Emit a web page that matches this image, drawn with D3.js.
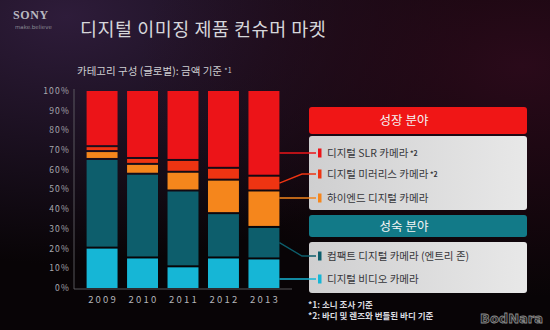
<!DOCTYPE html>
<html><head><meta charset="utf-8">
<script src="https://cdn.jsdelivr.net/npm/d3@7"></script>
<style>
html,body{margin:0;padding:0;background:#0a0508;}
svg{display:block}
text{font-family:"Noto Sans CJK KR","Noto Sans",sans-serif;}
</style>
</head><body>
<svg id="c" width="550" height="330"></svg>
<script>
// Market share by category (global, by value), percent of total
const years = ["2009", "2010", "2011", "2012", "2013"];
const seriesKeys = ["video", "compact", "highend", "mirrorless", "slr"];
const seriesNames = ["디지털 비디오 카메라", "컴팩트 디지털 카메라 (엔트리 존)", "하이엔드 디지털 카메라", "디지털 미러리스 카메라", "디지털 SLR 카메라"];
const seriesNotes = ["", "", "", "*2", "*2"];
const videoShare = [20.5, 15.5, 11, 15.5, 15];
const compactShare = [45, 42.5, 38.5, 22.5, 16];
const highEndShare = [4, 5, 9.5, 17, 18.5];
const mirrorlessShare = [2.5, 3, 6, 6, 7.5];
const slrShare = [28, 34, 35, 39, 43];
const yTicks = [0, 10, 20, 30, 40, 50, 60, 70, 80, 90, 100];
const groupTitles = ["성장 분야", "성숙 분야"];
const footnotes = ["*1: 소니 조사 기준", "*2: 바디 및 렌즈와 번들된 바디 기준"];

const colors = {video: "#16b6d6", compact: "#0d5e6c", highend: "#f5861c", mirrorless: "#ee3412", slr: "#ec1418"};

const svg = d3.select("#c");
const defs = svg.append("defs");

// backdrop with a purple glow top-left and maroon glow on the right
svg.append("rect").attr("width", 550).attr("height", 330).attr("fill", "#080406");
const g1 = defs.append("radialGradient").attr("id", "glowL").attr("cx", 0.12).attr("cy", 0.05).attr("r", 0.75);
g1.append("stop").attr("offset", 0).attr("stop-color", "#2e1c3a").attr("stop-opacity", 1);
g1.append("stop").attr("offset", 1).attr("stop-color", "#2e1c3a").attr("stop-opacity", 0);
const g2 = defs.append("radialGradient").attr("id", "glowR").attr("cx", 0.95).attr("cy", 0.2).attr("r", 0.7);
g2.append("stop").attr("offset", 0).attr("stop-color", "#2a0a1a").attr("stop-opacity", 1);
g2.append("stop").attr("offset", 1).attr("stop-color", "#2a0a1a").attr("stop-opacity", 0);
svg.append("rect").attr("width", 550).attr("height", 330).attr("fill", "url(#glowL)");
svg.append("rect").attr("width", 550).attr("height", 330).attr("fill", "url(#glowR)");

const panelGrad = defs.append("linearGradient").attr("id", "panel").attr("x1", 0).attr("x2", 1).attr("y1", 0).attr("y2", 0);
panelGrad.append("stop").attr("offset", 0).attr("stop-color", "#cfcfd0");
panelGrad.append("stop").attr("offset", 1).attr("stop-color", "#e8e8e8");

// logo
svg.append("text").attr("x", 13).attr("y", 19).text("SONY")
  .style("font-family", "'Liberation Serif',serif").style("font-weight", 700)
  .style("font-size", "12px").attr("fill", "#b8b8c0").attr("letter-spacing", 0.6);
svg.append("text").attr("x", 15).attr("y", 28.5).text("make.believe")
  .style("font-family", "'DejaVu Sans',sans-serif")
  .style("font-size", "5.5px").attr("fill", "#8a8a94");

// titles
svg.append("text").attr("x", 80).attr("y", 36).text("디지털 이미징 제품 컨슈머 마켓")
  .style("font-size", "18.5px").attr("fill", "#d6d6da").attr("letter-spacing", 0.5);
const sub = svg.append("text").attr("x", 77).attr("y", 75).style("font-size", "10.5px").attr("fill", "#cfcfd2");
sub.append("tspan").text("카테고리 구성 (글로벌): 금액 기준 ");
sub.append("tspan").text("*1").style("font-size", "7px").attr("dy", -2);

// scales
const x = d3.scaleBand().domain(years).range([78.5, 287.5]).paddingInner(0.235).paddingOuter(0.2);
const y = d3.scaleLinear().domain([0, 100]).range([288, 91]);

const rows = years.map((yr, i) => ({
  year: yr, video: videoShare[i], compact: compactShare[i], highend: highEndShare[i],
  mirrorless: mirrorlessShare[i], slr: slrShare[i]
}));
const stacked = d3.stack().keys(seriesKeys)(rows);

// axes lines
svg.append("line").attr("x1", 74).attr("x2", 74).attr("y1", y(100) - 2).attr("y2", y(0) + 1)
  .attr("stroke", "#6a6a70").attr("stroke-width", 0.8);
svg.append("line").attr("x1", 74).attr("x2", 292).attr("y1", y(0) + 1).attr("y2", y(0) + 1)
  .attr("stroke", "#6a6a70").attr("stroke-width", 0.8);

// y tick labels
svg.append("g").selectAll("text").data(yTicks).join("text")
  .attr("x", 70).attr("y", d => y(d)).attr("dy", "0.35em").attr("text-anchor", "end")
  .text(d => d + "%").style("font-size", "8.5px").attr("fill", "#a8a8ae").attr("letter-spacing", 1.2);

// year labels
svg.append("g").selectAll("text").data(years).join("text")
  .attr("x", d => x(d) + x.bandwidth() / 2 + 1).attr("y", 303).attr("text-anchor", "middle")
  .text(d => d).style("font-size", "9.5px").attr("fill", "#b4b4ba").attr("letter-spacing", 2.2);

// stacked bars
const gap = 2;
svg.append("g").selectAll("g").data(stacked).join("g")
  .attr("fill", d => colors[d.key])
  .selectAll("rect").data(d => d).join("rect")
  .attr("x", d => x(d.data.year))
  .attr("width", x.bandwidth())
  .attr("y", d => y(d[1]) + (d[1] < 100 ? gap / 2 : 0))
  .attr("height", d => Math.max(0.5, y(d[0]) - y(d[1]) - (d[1] < 100 ? gap / 2 : 0) - (d[0] > 0 ? gap / 2 : 0)));

// legend panels
const panelX = 309, panelW = 218;
function header(yTop, h, fill, label) {
  svg.append("rect").attr("x", panelX).attr("y", yTop).attr("width", panelW).attr("height", h)
    .attr("rx", 3).attr("fill", fill);
  svg.append("text").attr("x", 404).attr("y", yTop + h / 2).attr("dy", "0.36em").attr("text-anchor", "middle")
    .text(label).style("font-size", "12.5px").attr("fill", "#f4f4f4");
}
header(107, 27, "#f01616", groupTitles[0]);
svg.append("rect").attr("x", panelX).attr("y", 136).attr("width", panelW).attr("height", 74).attr("rx", 3).attr("fill", "url(#panel)");
header(215, 22, "#127a88", groupTitles[1]);
svg.append("rect").attr("x", panelX).attr("y", 242).attr("width", panelW).attr("height", 51).attr("rx", 3).attr("fill", "url(#panel)");

// legend rows, listed top to bottom
const legendOrder = ["slr", "mirrorless", "highend", "compact", "video"];
const legendY = [153, 174, 198, 256, 279];
const markerX = 318;
const last = years[years.length - 1];
const barRight = x(last) + x.bandwidth();

legendOrder.forEach((key, i) => {
  const si = seriesKeys.indexOf(key);
  const seg = stacked[si][years.length - 1];
  const top = y(seg[1]), bot = y(seg[0]);
  const ly = legendY[i];
  const inside = ly > top + 3 && ly < bot - 3;
  const sy = inside ? ly : (top + bot) / 2;
  const pts = inside ? [[barRight, sy], [markerX - 2, ly]] : [[barRight, sy], [302, ly], [markerX - 2, ly]];
  svg.append("path").attr("d", d3.line()(pts)).attr("fill", "none")
    .attr("stroke", colors[key]).attr("stroke-width", 1.4);
  svg.append("rect").attr("x", markerX).attr("y", ly - 4.5).attr("width", 3.5).attr("height", 9).attr("fill", colors[key]);
  const t = svg.append("text").attr("x", 327).attr("y", ly).attr("dy", "0.36em")
    .style("font-size", "10.5px").attr("fill", "#36363a");
  t.append("tspan").text(seriesNames[si]);
  if (seriesNotes[si]) t.append("tspan").text(" " + seriesNotes[si]).style("font-size", "7px").style("font-weight", 700).attr("dy", -1);
});

// footnotes
footnotes.forEach((f, i) => {
  svg.append("text").attr("x", 308).attr("y", 308 + i * 11).text(f)
    .style("font-size", "8.5px").style("font-weight", 700).attr("fill", "#dcdce0");
});

// watermark
svg.append("text").attr("x", 480).attr("y", 323).text("BodNara")
  .style("font-family", "'DejaVu Sans',sans-serif").style("font-weight", 700).style("font-size", "13px")
  .attr("fill", "#1c1c1c").attr("stroke", "#8a8a8a").attr("stroke-width", 0.8);
</script>
</body></html>
